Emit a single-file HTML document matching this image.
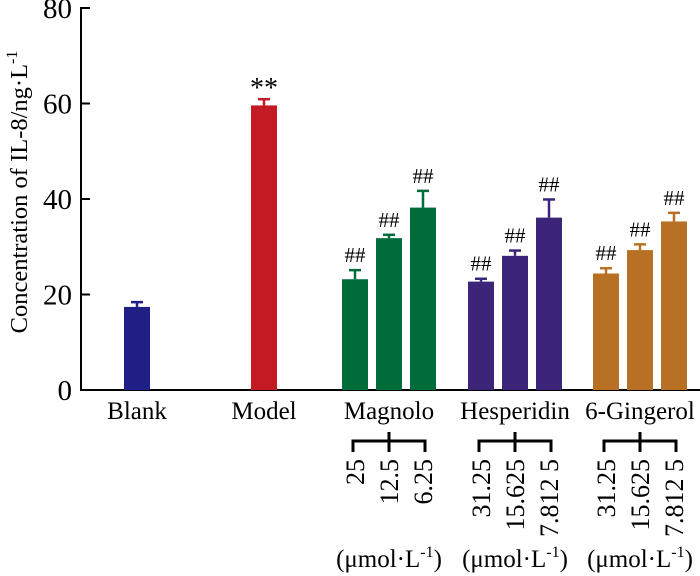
<!DOCTYPE html>
<html><head><meta charset="utf-8"><style>
body{margin:0;background:#fff}
svg{display:block;font-family:"Liberation Serif",serif}
</style></head><body>
<svg id="chart" width="700" height="576">
<g id="axes"></g><g id="bars"></g><g id="labels"></g>
</svg>
<script>
const categories=["Blank","Model","Magnolo-25","Magnolo-12.5","Magnolo-6.25","Hesperidin-31.25","Hesperidin-15.625","Hesperidin-7.8125","Gingerol-31.25","Gingerol-15.625","Gingerol-7.8125"];
const values=[17.4,59.6,23.2,31.8,38.2,22.7,28.1,36.1,24.4,29.3,35.3];
const errors=[1.0,1.3,1.9,0.7,3.5,0.6,1.1,3.8,1.1,1.2,1.8];
const marks=["","**","##","##","##","##","##","##","##","##","##"];
const yTicks=[0,20,40,60,80];
const groupNames=["Blank","Model","Magnolo","Hesperidin","6-Gingerol"];
const doseLabels=["25","12.5","6.25","31.25","15.625","7.812 5","31.25","15.625","7.812 5"];
const colors=["#1f1f85","#c41a23","#006b3b","#006b3b","#006b3b","#3c247a","#3c247a","#3c247a","#b87124","#b87124","#b87124"];
const barX=[124,251,342,376,410,468,502,536,593,627,661];
const BW=26;
const NS="http://www.w3.org/2000/svg";
function y(v){return 390-v*382/80;}
function mk(t,a,p){const e=document.createElementNS(NS,t);for(const k in a)e.setAttribute(k,a[k]);(p||document.getElementById('chart')).appendChild(e);return e;}
const axes=document.getElementById('axes'),bars=document.getElementById('bars'),labels=document.getElementById('labels');
let e=mk('line',{x1:81,y1:7,x2:81,y2:390,stroke:'#000','stroke-width':2},axes);


e=mk('line',{x1:80,y1:390,x2:700,y2:390,stroke:'#000','stroke-width':2},axes);


yTicks.forEach(t=>{
 mk('line',{x1:81,y1:y(t),x2:90,y2:y(t),stroke:'#000','stroke-width':2},axes);
 const tx=mk('text',{x:72,y:y(t)+10,'text-anchor':'end','font-size':29},axes);tx.textContent=t;
 
 
});
e=mk('text',{transform:'translate(27,192) rotate(-90)','text-anchor':'middle','font-size':24.5},axes);
e.innerHTML='Concentration of IL-8/ng·L<tspan dy="-10" font-size="16">-1</tspan>';


values.forEach((v,i)=>{
 const cx=barX[i]+BW/2,top=y(v),et=y(v+errors[i]);
 const g=mk('g',{},bars);
 
 
 mk('rect',{x:barX[i],y:top,width:BW,height:390-top,fill:colors[i]},g);
 mk('line',{x1:cx,y1:top,x2:cx,y2:et,stroke:colors[i],'stroke-width':2.5},g);
 mk('line',{x1:cx-6,y1:et,x2:cx+6,y2:et,stroke:colors[i],'stroke-width':2.5},g);
 if(marks[i]){const m=mk('text',{x:cx,y:marks[i]=="**"?et-2:et-8,'text-anchor':'middle','font-size':marks[i]=="**"?28:21},labels);m.textContent=marks[i];
 
 }
});
const groupCenters=[137,264,389,515,640];
groupNames.forEach((n,i)=>{const t=mk('text',{x:groupCenters[i],y:419,'text-anchor':'middle','font-size':25},labels);t.textContent=n;
 
 });
for(let g=0;g<3;g++){
 const l=barX[2+g*3]+BW/2-2,r=barX[4+g*3]+BW/2+2,c=barX[3+g*3]+BW/2;
 const br=mk('path',{d:`M${l},452V441H${r}V452M${c},432V452`,fill:'none',stroke:'#000','stroke-width':3},labels);
 
 
 const u=mk('text',{x:c,y:567,'text-anchor':'middle','font-size':25},labels);
 u.innerHTML='(μmol·L<tspan dy="-10" font-size="16">-1</tspan><tspan dy="10">)</tspan>';
 
 
}
doseLabels.forEach((d,i)=>{const cx=barX[i+2]+BW/2+9;
 const t=mk('text',{transform:`translate(${cx},459) rotate(-90)`,'text-anchor':'end','font-size':26},labels);t.textContent=d;
 
 });
</script>
</body></html>
